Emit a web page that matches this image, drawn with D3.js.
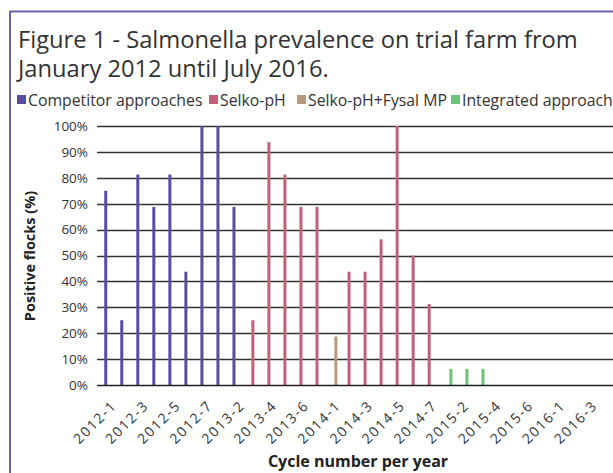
<!DOCTYPE html>
<html>
<head>
<meta charset="utf-8">
<script src="https://cdn.jsdelivr.net/npm/d3@7"></script>
<style>
  html, body { margin: 0; padding: 0; background: #fff; }
  svg { display: block; font-family: "Open Sans", sans-serif; }
</style>
</head>
<body>
<svg id="chart" width="613" height="473"></svg>
<script>
// ---- data ----
const categories = [
  "2012-1","2012-2","2012-3","2012-4","2012-5","2012-6","2012-7",
  "2013-1","2013-2","2013-3","2013-4","2013-5","2013-6","2013-7",
  "2014-1","2014-2","2014-3","2014-4","2014-5","2014-6","2014-7",
  "2015-1","2015-2","2015-3","2015-4","2015-5","2015-6","2015-7",
  "2016-1","2016-2","2016-3","2016-4"
];
const seriesNames = ["Competitor approaches", "Selko-pH", "Selko-pH+Fysal MP", "Integrated approach"];
const competitorValues = [75, 25, 81.25, 68.75, 81.25, 43.75, 100, 100, 68.75];
const competitorCats = ["2012-1","2012-2","2012-3","2012-4","2012-5","2012-6","2012-7","2013-1","2013-2"];
const selkoValues = [25, 93.75, 81.25, 68.75, 68.75, 43.75, 43.75, 56.25, 100, 50, 31.25];
const selkoCats = ["2013-3","2013-4","2013-5","2013-6","2013-7","2014-2","2014-3","2014-4","2014-5","2014-6","2014-7"];
const fysalValues = [18.75];
const fysalCats = ["2014-1"];
const integratedValues = [6.25, 6.25, 6.25];
const integratedCats = ["2015-1","2015-2","2015-3"];
const yTicks = [0, 10, 20, 30, 40, 50, 60, 70, 80, 90, 100];
const colors = ["#5b4b9e", "#c2607c", "#b59a7c", "#6cc47c"];

const seriesData = [
  { name: seriesNames[0], cats: competitorCats, vals: competitorValues },
  { name: seriesNames[1], cats: selkoCats, vals: selkoValues },
  { name: seriesNames[2], cats: fysalCats, vals: fysalValues },
  { name: seriesNames[3], cats: integratedCats, vals: integratedValues }
];

const svg = d3.select("#chart");

// frame
svg.append("rect").attr("x", 10).attr("y", 11.5).attr("width", 620).attr("height", 470)
  .attr("fill", "none").attr("stroke", "#6b5fae").attr("stroke-width", 2);

// title
svg.append("text").attr("x", 18).attr("y", 48).attr("fill", "#333").attr("font-size", 23.7)
  .text("Figure 1 - Salmonella prevalence on trial farm from");
svg.append("text").attr("x", 18).attr("y", 77).attr("fill", "#333").attr("font-size", 23.7)
  .text("January 2012 until July 2016.");

// scales
const plotLeft = 97, plotRight = 613, y0 = 385, y100 = 126;
const x = d3.scaleBand().domain(categories).range([102, 102 + 16.03 * categories.length]).padding(0);
const xs = d3.scaleBand().domain(seriesNames).range([0, 11.4]);
const y = d3.scaleLinear().domain([0, 100]).range([y0, y100]);

// gridlines
svg.append("g").selectAll("line").data(yTicks.slice(1)).join("line")
  .attr("x1", plotLeft).attr("x2", plotRight)
  .attr("y1", d => Math.round(y(d)) + 0.5).attr("y2", d => Math.round(y(d)) + 0.5)
  .attr("stroke", "#333").attr("stroke-width", 1.3);

// y axis labels
const yAxis = d3.axisLeft(y).tickValues(yTicks).tickSize(0).tickPadding(0).tickFormat(d => d + "%");
const yg = svg.append("g").attr("transform", `translate(88,0)`).call(yAxis);
yg.select(".domain").remove();
yg.selectAll("text").attr("font-size", 13.5).attr("fill", "#333").attr("font-family", "Open Sans, sans-serif");

// bars
seriesData.forEach((s, i) => {
  svg.append("g").selectAll("rect").data(s.vals.map((v, k) => ({ c: s.cats[k], v })))
    .join("rect")
    .attr("x", d => x(d.c) + x.bandwidth() / 2 - 5.7 + xs(s.name) + (xs.bandwidth() - 3) / 2)
    .attr("width", 3)
    .attr("y", d => y(d.v))
    .attr("height", d => y0 - y(d.v))
    .attr("fill", colors[i]);
});

// x axis line
svg.append("line").attr("x1", plotLeft).attr("x2", plotRight)
  .attr("y1", y0 + 0.5).attr("y2", y0 + 0.5).attr("stroke", "#222").attr("stroke-width", 1.5);

// x labels (every other category)
const xAxis = d3.axisBottom(x).tickValues(categories.filter((d, i) => i % 2 === 0)).tickSize(0).tickPadding(0);
const xg = svg.append("g").attr("transform", `translate(0,${y0})`).call(xAxis);
xg.select(".domain").remove();
xg.selectAll("text")
  .attr("font-size", 14).attr("fill", "#333").attr("font-family", "Open Sans, sans-serif")
  .attr("letter-spacing", "1.6px")
  .attr("text-anchor", "end").attr("dy", "0.35em")
  .attr("transform", "translate(4,18) rotate(-45)");

// axis titles
svg.append("text").attr("x", 358).attr("y", 467).attr("text-anchor", "middle")
  .attr("font-size", 16).attr("font-weight", 700).attr("fill", "#222").text("Cycle number per year");
svg.append("text").attr("transform", "translate(35,256) rotate(-90)").attr("text-anchor", "middle")
  .attr("font-size", 14.5).attr("font-weight", 700).attr("fill", "#222").text("Positive flocks (%)");

// legend
const legendPos = [17, 209, 297, 451];
const lg = svg.append("g");
seriesNames.forEach((n, i) => {
  lg.append("rect").attr("x", legendPos[i]).attr("y", 95).attr("width", 9).attr("height", 9).attr("fill", colors[i]);
  lg.append("text").attr("x", legendPos[i] + 11).attr("y", 105.5).attr("font-size", 15.8).attr("fill", "#333").text(n);
});
</script>
</body>
</html>
